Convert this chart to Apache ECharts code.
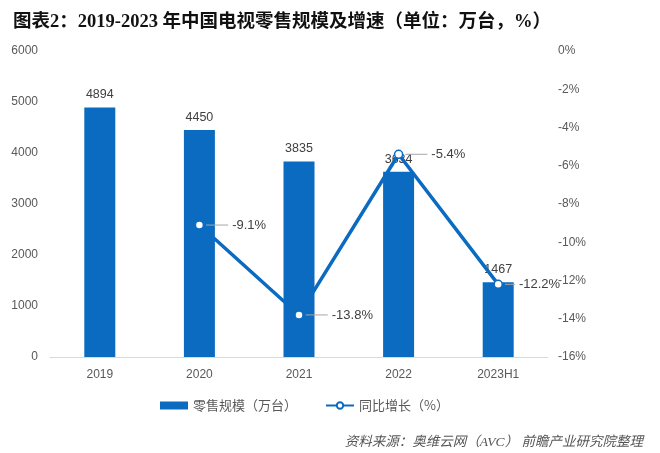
<!DOCTYPE html>
<html><head><meta charset="utf-8">
<script src="https://cdn.jsdelivr.net/npm/echarts@6/dist/echarts.min.js"></script>
<style>html,body{margin:0;padding:0;background:#fff}#c{width:660px;height:453px}</style>
</head><body><div id="c"></div>
<script>
const categories = ['2019','2020','2021','2022','2023H1'];
const retailVolume = [4894, 4450, 3835, 3634, 1467];
const growthRate = [null, -9.1, -13.8, -5.4, -12.2];
const leftTicks = [0, 6000, 1000];
const rightTicks = [-16, 0, 2];

const chart = echarts.init(document.getElementById('c'));
const blue = '#0A6BC1';
const lineLabel = (w) => ({
  show: true, position: 'right', distance: 2,
  formatter: p => '{ln|}{t|' + p.value + '%}',
  rich: {
    ln: {width: w, height: 1, backgroundColor: '#A6A6A6'},
    t: {color: '#404040', fontSize: 13, padding: [0, 0, 0, 4]}
  }
});
chart.setOption({
  animation: false,
  title: [{
    text: '图表2：2019-2023 年中国电视零售规模及增速（单位：万台，%）',
    left: 8, top: 8,
    textStyle: {fontFamily: 'Liberation Serif, Noto Sans CJK SC', fontWeight: 'bold', fontSize: 18.5, color: '#111'}
  }, {
    text: '资料来源：奥维云网（AVC） 前瞻产业研究院整理',
    right: 12, top: 431,
    textStyle: {fontFamily: 'Liberation Serif, Noto Sans CJK SC', fontStyle: 'italic', fontWeight: 'normal', fontSize: 13.5, color: '#555'}
  }],
  legend: {
    top: 394, left: 155,
    itemGap: 28,
    textStyle: {fontSize: 13, color: '#595959', fontFamily: 'Noto Sans CJK SC'},
    data: [
      {name: '零售规模（万台）', icon: 'rect', itemStyle: {color: blue}},
      {name: '同比增长（%）'}
    ],
    itemWidth: 28, itemHeight: 8
  },
  grid: {left: 50, right: 112, top: 51, bottom: 96},
  xAxis: {
    type: 'category', data: categories,
    axisLine: {lineStyle: {color: '#D9D9D9'}},
    axisTick: {show: false},
    axisLabel: {color: '#595959', fontSize: 12, margin: 12}
  },
  yAxis: [{
    type: 'value', min: leftTicks[0], max: leftTicks[1], interval: leftTicks[2],
    splitLine: {show: false},
    axisLabel: {color: '#595959', fontSize: 12, margin: 12, formatter: v => String(v)}
  }, {
    type: 'value', min: rightTicks[0], max: rightTicks[1], interval: rightTicks[2],
    splitLine: {show: false},
    axisLabel: {color: '#595959', fontSize: 12, formatter: '{value}%', margin: 10}
  }],
  series: [{
    name: '零售规模（万台）', type: 'bar', data: retailVolume,
    barWidth: 31,
    itemStyle: {color: blue},
    label: {show: true, position: 'top', color: '#404040', fontSize: 12.5, distance: 6}
  }, {
    name: '同比增长（%）', type: 'line', yAxisIndex: 1,
    data: growthRate.map((v, i) => i === 4 ? {value: v, label: lineLabel(10)} : v),
    symbol: 'circle', symbolSize: 8,
    lineStyle: {color: blue, width: 3.5},
    itemStyle: {color: '#fff', borderColor: blue, borderWidth: 1.5},
    label: lineLabel(22)
  }]
});
</script></body></html>
